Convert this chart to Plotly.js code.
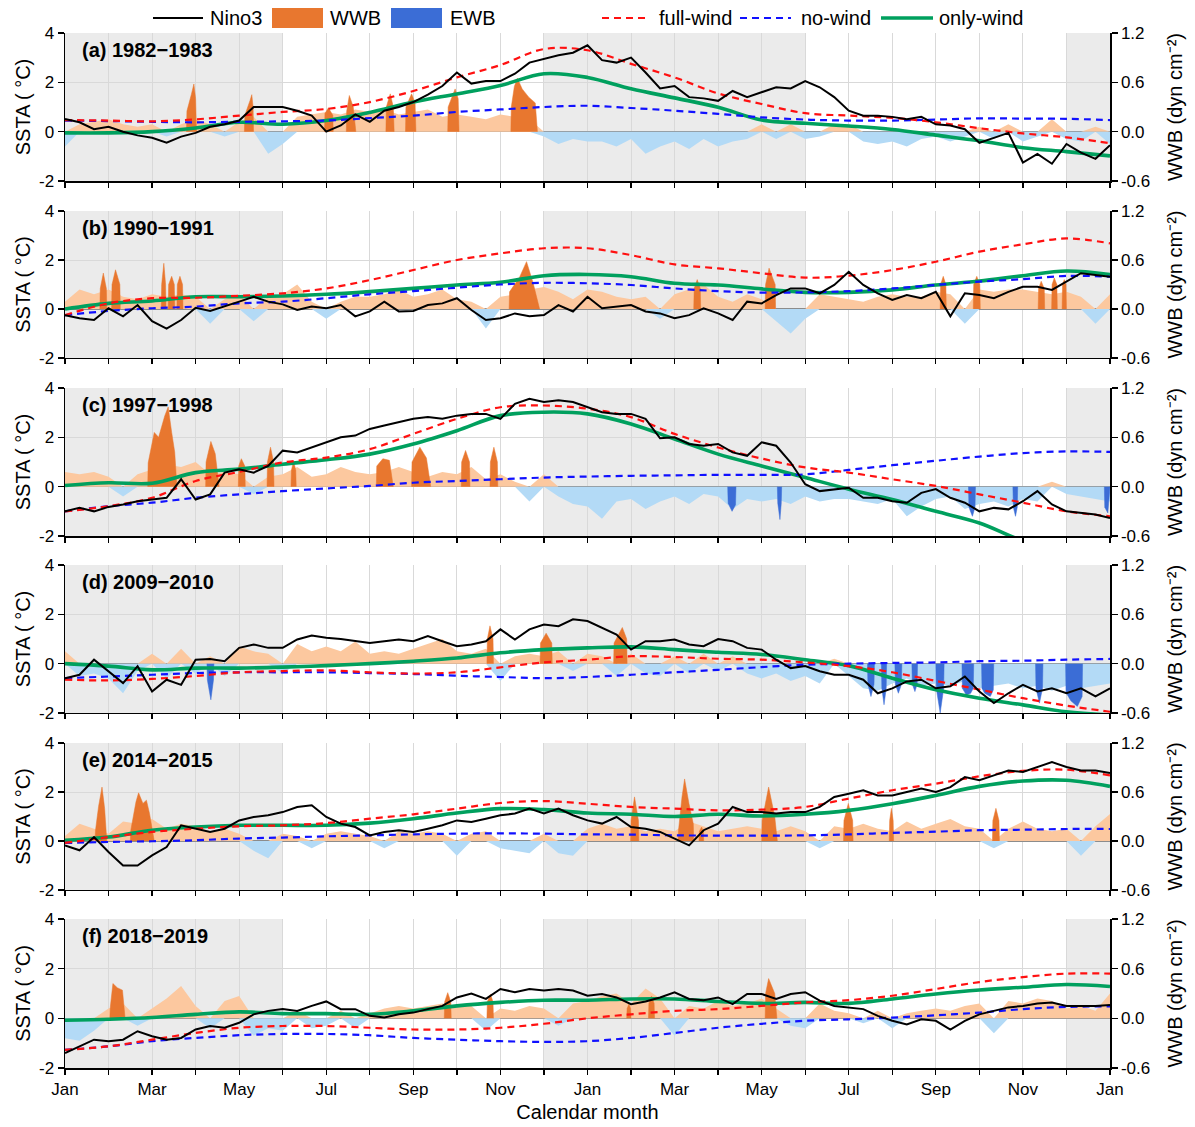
<!DOCTYPE html>
<html><head><meta charset="utf-8">
<script src="https://cdn.plot.ly/plotly-3.0.1.min.js"></script>
<style>html,body{margin:0;padding:0;background:#fff}#chart{width:1195px;height:1127px}</style>
</head><body><div id="chart"></div>
<script>
// ---------- DATA ----------
const panelLabels = ['(a) 1982\u22121983','(b) 1990\u22121991','(c) 1997\u22121998','(d) 2009\u22122010','(e) 2014\u22122015','(f) 2018\u22122019'];
const monthTickVals = [0,2,4,6,8,10,12,14,16,18,20,22,24];
const monthTickText = ['Jan','Mar','May','Jul','Sep','Nov','Jan','Mar','May','Jul','Sep','Nov','Jan'];
const sstaTickVals = [-2,0,2,4];
const sstaTickText = ['-2','0','2','4'];
const wwbTickVals = [-0.6,0,0.6,1.2];
const wwbTickText = ['-0.6','0.0','0.6','1.2'];
const shadeSpans = [[0,5],[11,17],[23,24]]; // Dec-May, in months from Jan of year 1
const legendNames = ['Nino3','WWB','EWB','full-wind','no-wind','only-wind'];
const leftTitle = 'SSTA ( \u00B0C)';
const rightTitle = 'WWB (dyn cm\u207B\u00B2)';
const xTitle = 'Calendar month';

// Nino3 SSTA (°C), every 1/3 month from Jan yr1 to Jan yr3
const nino3_a = [0.51,0.38,0.1,0.2,0.0,-0.15,-0.25,-0.45,-0.2,-0.05,
 0.2,0.3,0.45,1.0,1.0,1.0,0.85,0.65,0.0,0.25,
 0.7,0.4,0.85,1.0,1.2,1.5,1.85,2.4,1.95,2.05,
 2.05,2.35,2.8,2.95,3.1,3.2,3.5,2.9,2.8,3.0,
 2.4,1.75,1.85,1.4,1.35,1.25,1.65,1.4,1.6,1.8,
 1.75,2.05,1.8,1.4,0.85,0.65,0.65,0.6,0.5,0.6,
 0.3,0.25,0.1,-0.45,-0.25,-0.05,-1.25,-0.9,-1.3,-0.5,
 -0.85,-1.1,-0.55];
const nino3_b = [-0.25,-0.38,-0.45,0.03,-0.3,0.16,-0.5,-0.8,-0.45,0.05,
 -0.08,0.1,0.3,0.5,0.3,0.19,-0.04,0.1,0.03,0.16,
 -0.3,-0.1,0.3,-0.1,-0.08,0.16,0.23,0.44,-0.04,-0.45,
 -0.38,-0.18,-0.3,-0.25,0.16,-0.1,0.5,0.03,0.1,0.16,
 -0.1,-0.18,-0.38,-0.25,0.03,-0.18,-0.45,0.3,0.23,0.57,
 0.84,0.84,0.64,0.98,1.52,0.98,0.64,0.37,0.57,0.44,
 0.7,-0.3,0.64,0.57,0.44,0.7,0.91,0.91,0.78,1.12,
 1.46,1.39,1.32];
const nino3_c = [-1.0,-0.86,-1.0,-0.82,-0.72,-0.59,-0.52,-0.45,0.3,-0.52,
 -0.31,0.57,0.71,0.57,0.84,1.46,1.39,1.59,1.8,2.0,
 2.07,2.34,2.48,2.61,2.75,2.82,2.75,2.88,2.95,2.95,
 2.75,3.36,3.56,3.43,3.5,3.43,3.22,3.02,2.95,2.95,
 2.75,1.96,2.0,1.73,1.66,1.73,1.39,1.25,1.8,1.66,
 0.98,0.1,-0.18,-0.1,-0.04,-0.45,-0.45,-0.59,-0.65,-0.25,
 -0.1,-0.45,-0.65,-1.0,-0.86,-0.92,-0.59,-0.18,-0.72,-1.0,
 -1.06,-1.13,-1.27];
const nino3_d = [-0.59,-0.45,0.16,-0.31,-0.79,-0.1,-1.13,-0.65,-0.86,0.16,
 0.19,0.1,0.64,0.78,0.64,0.64,0.98,1.14,1.05,1.0,
 0.91,0.84,0.91,0.98,0.91,1.12,0.91,0.71,0.78,0.91,
 1.39,0.98,1.39,1.59,1.52,1.8,1.73,1.46,1.18,0.57,
 0.91,0.91,0.98,0.78,0.71,1.0,0.91,0.64,0.57,0.16,
 -0.18,-0.1,-0.31,-0.45,-0.45,-0.65,-1.2,-1.0,-0.72,-0.65,
 -1.0,-0.92,-0.52,-1.13,-1.6,-1.2,-0.86,-1.13,-1.0,-1.2,
 -1.0,-1.33,-1.0];
const nino3_e = [-0.18,-0.38,0.16,-0.45,-1.0,-1.0,-0.59,-0.25,0.64,0.5,
 0.37,0.5,0.84,0.98,1.05,1.18,1.39,1.46,0.98,0.71,
 0.57,0.23,0.37,0.44,0.37,0.5,0.64,0.84,0.78,0.91,
 1.05,1.12,1.32,1.12,1.32,1.05,0.84,0.71,0.98,0.57,
 0.5,0.37,0.1,-0.18,0.44,0.71,1.39,1.18,1.18,1.12,
 1.18,1.18,1.39,1.8,1.93,2.07,1.86,1.86,2.0,2.14,
 2.0,2.2,2.61,2.48,2.68,2.88,2.82,3.02,3.22,3.02,
 2.88,2.88,2.78];
const nino3_f = [-1.4,-1.13,-0.86,-0.92,-0.86,-0.52,-0.72,-0.86,-0.79,-0.45,
 -0.31,-0.38,-0.18,0.16,0.3,0.37,0.3,0.5,0.68,0.37,
 0.37,0.1,0.03,0.16,0.23,0.37,0.5,0.84,1.0,0.78,
 1.18,1.05,1.18,1.12,1.18,1.12,0.91,0.98,0.84,0.57,
 0.68,0.84,1.05,0.78,0.73,0.84,0.57,0.98,0.98,0.78,
 0.98,1.05,0.71,0.5,0.44,0.37,0.1,-0.1,-0.25,-0.04,
 -0.1,-0.45,-0.1,0.16,0.3,0.44,0.5,0.6,0.64,0.5,
 0.5,0.5,0.54];

// Model SSTA (°C), monthly, Jan yr1 .. Jan yr3
const fullWind_a = [0.47,0.45,0.42,0.5,0.65,0.8,0.92,1.2,1.65,2.2,2.7,3.35,3.3,2.75,2.2,1.55,1.12,0.75,0.65,0.56,0.38,0.14,-0.07,-0.23,-0.47];
const noWind_a   = [0.45,0.43,0.4,0.38,0.4,0.42,0.45,0.55,0.65,0.8,0.9,1.0,1.05,0.96,0.85,0.72,0.58,0.49,0.45,0.45,0.49,0.54,0.53,0.52,0.47];
const onlyWind_a = [-0.05,-0.05,0.0,0.15,0.38,0.3,0.45,0.78,1.2,1.53,1.87,2.35,2.2,1.74,1.37,0.99,0.47,0.34,0.23,0.09,-0.14,-0.37,-0.65,-0.81,-0.98];
const fullWind_b = [-0.25,0.23,0.44,0.46,0.54,0.64,0.84,1.18,1.59,2.0,2.27,2.48,2.48,2.2,1.82,1.66,1.46,1.28,1.36,1.59,1.93,2.34,2.64,2.88,2.68];
const noWind_b   = [-0.25,-0.08,0.03,0.1,0.23,0.3,0.44,0.6,0.73,0.87,1.0,1.07,1.05,0.98,0.84,0.73,0.67,0.68,0.73,0.84,0.98,1.12,1.22,1.35,1.32];
const onlyWind_b = [0.0,0.23,0.33,0.5,0.5,0.53,0.6,0.71,0.84,0.98,1.09,1.36,1.41,1.32,1.05,0.98,0.82,0.68,0.68,0.78,0.98,1.14,1.36,1.55,1.41];
const fullWind_c = [-1.0,-0.79,-0.45,0.23,0.6,0.98,1.18,1.52,2.14,2.75,3.22,3.29,3.16,2.82,2.14,1.59,1.14,0.78,0.57,0.3,0.03,-0.31,-0.65,-1.0,-1.2];
const noWind_c   = [-1.0,-0.79,-0.65,-0.45,-0.31,-0.18,-0.07,0.03,0.16,0.23,0.3,0.37,0.41,0.44,0.46,0.48,0.48,0.5,0.68,0.87,1.05,1.22,1.36,1.43,1.41];
const onlyWind_c = [0.05,0.16,0.14,0.57,0.71,0.91,1.09,1.32,1.73,2.27,2.88,3.02,2.95,2.54,1.93,1.32,0.84,0.37,-0.1,-0.52,-1.0,-1.47,-2.2,-2.7,-3.2];
const fullWind_d = [-0.65,-0.68,-0.62,-0.5,-0.35,-0.3,-0.27,-0.35,-0.4,-0.35,-0.15,0.05,0.16,0.3,0.27,0.2,0.16,0.05,-0.1,-0.35,-0.7,-1.05,-1.4,-1.7,-1.95];
const noWind_d   = [-0.59,-0.52,-0.45,-0.38,-0.35,-0.35,-0.35,-0.38,-0.42,-0.49,-0.54,-0.59,-0.54,-0.45,-0.35,-0.25,-0.14,-0.04,0.0,0.03,0.05,0.1,0.12,0.16,0.19];
const onlyWind_d = [0.0,-0.1,-0.25,-0.18,-0.18,-0.14,-0.08,0.0,0.1,0.23,0.44,0.57,0.64,0.68,0.57,0.46,0.37,0.16,-0.08,-0.59,-1.06,-1.4,-1.67,-1.95,-2.08];
const fullWind_e = [-0.08,0.16,0.37,0.5,0.6,0.64,0.73,0.91,1.09,1.32,1.55,1.63,1.52,1.39,1.32,1.25,1.28,1.39,1.73,2.07,2.34,2.64,2.86,2.91,2.68];
const noWind_e   = [-0.08,-0.04,-0.01,0.03,0.1,0.14,0.19,0.23,0.27,0.3,0.31,0.3,0.27,0.26,0.23,0.22,0.22,0.23,0.27,0.33,0.38,0.44,0.46,0.49,0.49];
const onlyWind_e = [0.03,0.16,0.44,0.57,0.64,0.64,0.64,0.73,0.91,1.14,1.32,1.28,1.14,1.09,1.0,1.09,1.02,1.09,1.25,1.52,1.86,2.23,2.45,2.48,2.23];
const fullWind_f = [-1.27,-1.13,-0.86,-0.59,-0.38,-0.31,-0.31,-0.38,-0.45,-0.45,-0.38,-0.22,0.0,0.16,0.3,0.37,0.5,0.64,0.73,0.91,1.18,1.46,1.66,1.8,1.8];
const noWind_f   = [-1.27,-1.13,-0.92,-0.79,-0.68,-0.63,-0.63,-0.68,-0.79,-0.86,-0.92,-0.95,-0.92,-0.79,-0.59,-0.38,-0.22,-0.1,-0.04,0.03,0.12,0.23,0.37,0.46,0.48];
const onlyWind_f = [-0.08,-0.04,0.03,0.16,0.26,0.19,0.19,0.16,0.3,0.5,0.64,0.73,0.73,0.78,0.78,0.68,0.6,0.64,0.6,0.78,0.98,1.14,1.25,1.36,1.28];

// Background wind-stress anomaly (dyn cm^-2), every 1/3 month
const wind_a = [-0.18,0.09,0.12,0.15,0.09,0.06,0.09,-0.06,0.09,0.15,0.09,-0.06,0.12,0.18,-0.27,-0.15,0.18,0.21,0.24,0.21,0.27,0.24,0.27,0.21,0.24,0.27,0.18,0.21,0.18,0.15,0.21,0.18,0.15,-0.06,-0.15,-0.09,-0.12,
 -0.12,-0.18,-0.09,-0.27,-0.18,-0.12,-0.21,-0.09,-0.18,-0.12,-0.09,0.09,-0.09,0.09,-0.09,-0.06,0.09,0.09,-0.12,-0.15,-0.12,-0.18,-0.09,-0.06,-0.12,-0.06,0.06,-0.09,0.09,-0.12,-0.06,0.15,-0.09,-0.12,0.06,-0.15];
const wind_b = [0.09,0.24,0.18,0.24,0.15,0.12,0.18,0.15,0.18,0.15,
 -0.18,0.12,0.18,-0.15,0.15,0.18,0.3,0.09,-0.12,0.09,
 0.15,0.15,0.18,0.24,0.15,0.18,0.24,0.12,0.09,-0.24,
 0.15,0.18,0.24,0.27,0.21,0.12,0.24,0.21,0.15,0.12,
 0.15,-0.12,0.18,0.24,0.3,0.15,0.09,0.18,0.12,-0.15,
 -0.3,-0.12,0.18,0.15,0.12,0.09,0.15,0.18,0.15,0.15,
 0.21,0.18,-0.18,0.24,0.21,0.24,0.24,0.21,0.18,0.21,
 0.15,-0.18,0.18];
const wind_c = [0.18,0.15,0.18,0.12,-0.12,0.15,0.21,0.27,0.24,0.3,
 0.15,0.18,0.15,-0.09,0.12,0.15,0.24,0.12,0.15,0.24,
 0.18,0.15,0.18,0.24,0.18,0.12,0.18,0.15,0.24,0.09,
 0.15,0.06,-0.18,0.15,-0.12,-0.21,-0.24,-0.39,-0.18,-0.15,
 -0.27,-0.18,-0.12,-0.21,-0.09,-0.12,-0.27,-0.15,-0.18,-0.15,
 -0.21,-0.12,-0.18,-0.15,-0.15,-0.18,-0.21,-0.15,-0.36,-0.24,
 -0.15,-0.12,-0.27,-0.21,-0.18,-0.24,-0.15,-0.18,0.06,-0.09,
 -0.12,-0.15,-0.18];
const wind_d = [0.15,-0.15,-0.12,-0.18,-0.36,-0.09,0.12,-0.18,0.18,-0.12,
 0.09,-0.15,0.21,0.15,0.12,-0.12,0.24,0.15,0.21,0.15,
 0.27,0.12,0.15,0.12,0.18,0.24,0.3,0.15,0.12,0.18,
 -0.21,0.09,0.12,0.09,0.15,-0.09,0.12,0.09,-0.15,0.12,
 -0.12,-0.15,0.09,-0.12,0.12,-0.09,0.09,-0.12,-0.18,-0.12,
 -0.21,-0.15,-0.24,0.06,-0.15,-0.3,-0.33,-0.24,-0.18,-0.27,
 -0.24,-0.27,-0.21,-0.3,-0.27,-0.24,-0.3,-0.27,-0.33,-0.27,
 -0.3,-0.27,-0.24];
const wind_e = [0.06,0.21,0.15,0.09,0.24,0.21,0.27,0.15,0.21,0.18,
 0.12,0.15,0.09,-0.12,-0.21,0.09,0.06,-0.09,0.09,0.12,
 0.09,0.06,-0.09,0.12,0.09,0.12,0.09,-0.18,0.09,0.12,
 -0.09,-0.12,-0.15,0.09,-0.15,-0.18,0.15,0.21,0.15,0.18,
 0.12,0.15,0.12,0.24,0.18,0.12,0.15,0.18,0.15,0.12,
 0.18,0.12,-0.09,0.18,0.15,0.21,0.15,0.12,0.24,0.15,
 0.21,0.27,0.18,0.15,-0.09,0.15,0.24,0.15,0.12,0.15,
 -0.18,0.18,0.33];
const wind_f = [-0.24,-0.27,-0.15,0.12,0.18,-0.09,0.12,0.24,0.39,0.15,
 -0.12,0.21,0.27,-0.21,-0.12,-0.15,0.09,-0.12,-0.09,0.09,
 -0.12,0.06,0.12,0.15,0.12,0.15,0.18,0.15,0.15,-0.15,
 0.12,0.09,0.15,0.12,-0.09,0.18,0.21,0.27,0.3,0.18,
 0.36,0.24,-0.21,0.15,0.12,0.21,0.15,0.18,0.24,0.12,
 -0.09,-0.12,0.18,0.09,0.06,-0.06,0.09,-0.12,0.06,0.09,
 0.12,0.09,0.15,0.18,-0.18,0.21,0.18,0.24,0.21,0.12,
 0.15,0.09,0.3];

// WWB / EWB events: time (months) and wind stress (dyn cm^-2)
const wwb_a = [
 {t:[2.79,2.8,2.9,2.96,3.0,3.02], v:[0,0.25,0.45,0.58,0.4,0]},
 {t:[4.12,4.13,4.25,4.29,4.32,4.33], v:[0,0.2,0.38,0.45,0.3,0]},
 {t:[5.96,5.97,6.05,6.15,6.16], v:[0,0.22,0.29,0.2,0]},
 {t:[6.46,6.47,6.53,6.62,6.68], v:[0,0.25,0.44,0.3,0]},
 {t:[7.37,7.38,7.47,7.54,7.56], v:[0,0.3,0.46,0.3,0]},
 {t:[7.82,7.83,7.96,8.04,8.06], v:[0,0.3,0.46,0.35,0]},
 {t:[8.79,8.8,8.96,9.03,9.05], v:[0,0.3,0.52,0.4,0]},
 {t:[10.24,10.25,10.32,10.39,10.5,10.65,10.8,10.85], v:[0,0.3,0.55,0.65,0.52,0.42,0.35,0]}];
const ewb_a = [];
const wwb_b = [
 {t:[0.8,0.81,0.88,0.95,0.96], v:[0,0.25,0.44,0.25,0]},
 {t:[1.07,1.08,1.16,1.26,1.27], v:[0,0.3,0.48,0.3,0]},
 {t:[2.21,2.22,2.27,2.31,2.32], v:[0,0.3,0.56,0.3,0]},
 {t:[2.37,2.38,2.45,2.51,2.52], v:[0,0.3,0.4,0.3,0]},
 {t:[2.57,2.58,2.64,2.7,2.71], v:[0,0.3,0.4,0.3,0]},
 {t:[10.2,10.21,10.44,10.6,10.75,10.9], v:[0,0.21,0.39,0.58,0.32,0]},
 {t:[14.44,14.45,14.52,14.59,14.6], v:[0,0.25,0.36,0.25,0]},
 {t:[16.08,16.09,16.17,16.31,16.32], v:[0,0.3,0.5,0.3,0]},
 {t:[20.1,20.11,20.17,20.23,20.24], v:[0,0.3,0.4,0.3,0]},
 {t:[20.86,20.87,20.94,21.01,21.02], v:[0,0.3,0.4,0.3,0]},
 {t:[22.35,22.36,22.42,22.49,22.5], v:[0,0.25,0.34,0.25,0]},
 {t:[22.66,22.67,22.72,22.78,22.79], v:[0,0.3,0.38,0.3,0]},
 {t:[22.9,22.91,22.95,22.99,23.0], v:[0,0.3,0.36,0.3,0]}];
const ewb_b = [];
const wwb_c = [
 {t:[1.9,1.91,2.05,2.15,2.29,2.37,2.45,2.52,2.57], v:[0,0.29,0.66,0.6,0.86,0.97,0.66,0.42,0]},
 {t:[3.23,3.24,3.35,3.45,3.54], v:[0,0.3,0.55,0.4,0]},
 {t:[3.98,3.99,4.05,4.13,4.14], v:[0,0.25,0.34,0.25,0]},
 {t:[4.64,4.65,4.72,4.79,4.8], v:[0,0.3,0.48,0.3,0]},
 {t:[5.19,5.2,5.25,5.3,5.31], v:[0,0.2,0.31,0.2,0]},
 {t:[7.15,7.16,7.3,7.45,7.54], v:[0,0.25,0.34,0.32,0]},
 {t:[7.96,7.97,8.15,8.3,8.4], v:[0,0.3,0.48,0.35,0]},
 {t:[9.1,9.11,9.2,9.29,9.3], v:[0,0.3,0.44,0.3,0]},
 {t:[9.76,9.77,9.85,9.93,9.94], v:[0,0.3,0.48,0.3,0]}];
const ewb_c = [
 {t:[15.22,15.23,15.32,15.4,15.41], v:[0,-0.2,-0.3,-0.22,0]},
 {t:[16.36,16.37,16.42,16.45,16.46], v:[0,-0.2,-0.4,-0.2,0]},
 {t:[20.75,20.76,20.84,20.9,20.91], v:[0,-0.25,-0.36,-0.25,0]},
 {t:[21.77,21.78,21.83,21.87,21.88], v:[0,-0.25,-0.36,-0.25,0]},
 {t:[23.87,23.88,23.95,24.0], v:[0,-0.25,-0.32,0]}];
const wwb_d = [
 {t:[9.69,9.7,9.76,9.83,9.84], v:[0,0.3,0.46,0.3,0]},
 {t:[10.91,10.92,11.05,11.18,11.19], v:[0,0.25,0.37,0.25,0]},
 {t:[12.6,12.61,12.8,12.9,12.91], v:[0,0.25,0.44,0.3,0]}];
const ewb_d = [
 {t:[3.26,3.27,3.35,3.41,3.42], v:[0,-0.2,-0.44,-0.2,0]},
 {t:[18.43,18.44,18.51,18.58,18.59], v:[0,-0.25,-0.4,-0.25,0]},
 {t:[18.75,18.76,18.81,18.86,18.87], v:[0,-0.3,-0.5,-0.3,0]},
 {t:[19.06,19.07,19.14,19.21,19.22], v:[0,-0.25,-0.36,-0.25,0]},
 {t:[19.45,19.46,19.52,19.57,19.58], v:[0,-0.25,-0.34,-0.25,0]},
 {t:[20.0,20.01,20.1,20.18,20.19], v:[0,-0.3,-0.6,-0.3,0]},
 {t:[20.6,20.61,20.7,20.8,20.86,20.87], v:[0,-0.3,-0.38,-0.36,-0.3,0]},
 {t:[21.05,21.06,21.12,21.25,21.32,21.33], v:[0,-0.3,-0.36,-0.4,-0.32,0]},
 {t:[22.29,22.3,22.38,22.45,22.46], v:[0,-0.3,-0.48,-0.3,0]},
 {t:[22.98,22.99,23.1,23.25,23.36,23.37], v:[0,-0.35,-0.45,-0.52,-0.4,0]}];
const wwb_e = [
 {t:[0.69,0.7,0.77,0.85,0.91,0.96], v:[0,0.13,0.42,0.66,0.4,0]},
 {t:[1.5,1.51,1.63,1.69,1.79,1.87,1.94,2.05], v:[0,0.13,0.48,0.59,0.46,0.5,0.34,0]},
 {t:[12.99,13.0,13.08,13.17,13.18], v:[0,0.25,0.54,0.25,0]},
 {t:[14.08,14.09,14.17,14.23,14.33,14.43,14.44], v:[0,0.13,0.54,0.76,0.46,0.21,0]},
 {t:[14.56,14.57,14.62,14.66,14.67], v:[0,0.12,0.17,0.12,0]},
 {t:[16.0,16.01,16.16,16.3,16.36], v:[0,0.25,0.66,0.3,0]},
 {t:[17.88,17.89,17.99,18.09,18.1], v:[0,0.25,0.46,0.25,0]},
 {t:[18.93,18.94,18.98,19.02,19.03], v:[0,0.25,0.4,0.25,0]},
 {t:[21.3,21.31,21.38,21.45,21.46], v:[0,0.25,0.4,0.25,0]}];
const ewb_e = [];
const wwb_f = [
 {t:[1.03,1.04,1.1,1.2,1.32,1.38], v:[0,0.13,0.42,0.37,0.34,0]},
 {t:[8.71,8.72,8.79,8.86,8.87], v:[0,0.2,0.31,0.2,0]},
 {t:[9.69,9.7,9.77,9.83,9.84], v:[0,0.2,0.29,0.2,0]},
 {t:[12.9,12.91,12.95,12.99,13.0], v:[0,0.12,0.17,0.12,0]},
 {t:[13.4,13.41,13.47,13.53,13.54], v:[0,0.18,0.27,0.18,0]},
 {t:[16.08,16.09,16.16,16.3,16.35], v:[0,0.3,0.48,0.3,0]}];
const ewb_f = [];

// ---------- STYLE ----------
const C = {lightOr:'#fcc89f', lightBl:'#b3daf6', darkOr:'#e8772f', darkBl:'#3b6dd6',
  shade:'#ebebeb', grid:'#d9d9d9', red:'#ff1010', blue:'#1010ff', green:'#00a05e'};
const FONT = 'Arial, "Liberation Sans", Helvetica, sans-serif';
const DOMAINS = [[0.857,1.0],[0.686,0.828],[0.514,0.657],[0.343,0.486],[0.172,0.314],[0,0.144]];
const PLOT_H = 1035;

const panels = [
 {nino3:nino3_a, full:fullWind_a, no:noWind_a, only:onlyWind_a, wind:wind_a, wwb:wwb_a, ewb:ewb_a},
 {nino3:nino3_b, full:fullWind_b, no:noWind_b, only:onlyWind_b, wind:wind_b, wwb:wwb_b, ewb:ewb_b},
 {nino3:nino3_c, full:fullWind_c, no:noWind_c, only:onlyWind_c, wind:wind_c, wwb:wwb_c, ewb:ewb_c},
 {nino3:nino3_d, full:fullWind_d, no:noWind_d, only:onlyWind_d, wind:wind_d, wwb:wwb_d, ewb:ewb_d},
 {nino3:nino3_e, full:fullWind_e, no:noWind_e, only:onlyWind_e, wind:wind_e, wwb:wwb_e, ewb:ewb_e},
 {nino3:nino3_f, full:fullWind_f, no:noWind_f, only:onlyWind_f, wind:wind_f, wwb:wwb_f, ewb:ewb_f}];

const T3 = nino3_a.map((_,k)=>k/3);
const T1 = fullWind_a.map((_,k)=>k);

const traces = [];
const layout = {
  width:1195, height:1127, margin:{l:65,r:85,t:33,b:59},
  paper_bgcolor:'white', plot_bgcolor:'white', showlegend:false,
  font:{family:FONT, size:17, color:'black'},
  shapes:[], annotations:[]
};

panels.forEach((p,i)=>{
  const xid = i===0 ? 'x' : 'x'+(i+1);
  const bNum = 2*i+1, oNum = 2*i+2;
  const yB = bNum===1 ? 'y' : 'y'+bNum;
  const yO = 'y'+oNum;
  const dom = DOMAINS[i];
  const xa = {
    domain:[0,1], anchor:yB, range:[0,24], tickmode:'array', tickvals:monthTickVals, ticktext:monthTickText,
    showticklabels: i===5, ticks:'outside', ticklen:5, tickwidth:1.3, tickcolor:'black',
    showline:true, linecolor:'black', linewidth:1.5, showgrid:true, gridcolor:C.grid, gridwidth:1,
    zeroline:false, tickfont:{size:17},
    minor:{tickmode:'linear', tick0:0, dtick:1, ticks:'outside', ticklen:5, tickwidth:1.3, tickcolor:'black',
      showgrid:true, gridcolor:C.grid, gridwidth:1}
  };
  if(i===5) xa.title = {text:xTitle, font:{size:20}, standoff:7};
  layout[i===0?'xaxis':'xaxis'+(i+1)] = xa;
  layout[bNum===1?'yaxis':'yaxis'+bNum] = {
    domain:dom, anchor:xid, side:'right', range:[-0.6,1.2], tickmode:'array', tickvals:wwbTickVals, ticktext:wwbTickText,
    ticks:'outside', ticklen:6, tickwidth:1.3, tickcolor:'black', showline:true, linecolor:'black', linewidth:1.5,
    showgrid:true, gridcolor:C.grid, zeroline:true, zerolinecolor:'#8c8c8c', zerolinewidth:1.5, tickfont:{size:17},
    title:{text:rightTitle, font:{size:20}, standoff:19}
  };
  layout['yaxis'+oNum] = {
    overlaying:yB, anchor:xid, side:'left', range:[-2,4], tickmode:'array', tickvals:sstaTickVals, ticktext:sstaTickText,
    ticks:'outside', ticklen:6, tickwidth:1.3, tickcolor:'black', showline:true, linecolor:'black', linewidth:1.5,
    showgrid:false, zeroline:false, tickfont:{size:17},
    title:{text:leftTitle, font:{size:20}, standoff:3}
  };
  shadeSpans.forEach(s=>{
    layout.shapes.push({type:'rect', xref:xid, yref:yB+' domain', x0:s[0], x1:s[1], y0:0, y1:1,
      fillcolor:C.shade, line:{width:0}, layer:'below'});
  });
  // background wind stress
  traces.push({x:T3, y:p.wind.map(v=>v>0?v:0), xaxis:xid, yaxis:yB, mode:'lines', fill:'tozeroy',
    fillcolor:C.lightOr, line:{width:0, color:C.lightOr}, hoverinfo:'skip'});
  traces.push({x:T3, y:p.wind.map(v=>v<0?v:0), xaxis:xid, yaxis:yB, mode:'lines', fill:'tozeroy',
    fillcolor:C.lightBl, line:{width:0, color:C.lightBl}, hoverinfo:'skip'});
  p.wwb.forEach(e=>traces.push({x:e.t, y:e.v, xaxis:xid, yaxis:yB, mode:'lines', fill:'toself',
    fillcolor:C.darkOr, line:{width:0.5, color:C.darkOr}, hoverinfo:'skip'}));
  p.ewb.forEach(e=>traces.push({x:e.t, y:e.v, xaxis:xid, yaxis:yB, mode:'lines', fill:'toself',
    fillcolor:C.darkBl, line:{width:0.5, color:C.darkBl}, hoverinfo:'skip'}));
  // SSTA lines
  traces.push({x:T1, y:p.only, xaxis:xid, yaxis:yO, mode:'lines', line:{color:C.green, width:3.6, shape:'spline', smoothing:1}});
  traces.push({x:T1, y:p.no, xaxis:xid, yaxis:yO, mode:'lines', line:{color:C.blue, width:2.2, dash:'7px,5px', shape:'spline', smoothing:1}});
  traces.push({x:T1, y:p.full, xaxis:xid, yaxis:yO, mode:'lines', line:{color:C.red, width:2.2, dash:'7px,5px', shape:'spline', smoothing:1}});
  traces.push({x:T3, y:p.nino3, xaxis:xid, yaxis:yO, mode:'lines', line:{color:'black', width:2}});

  // panel label
  layout.annotations.push({xref:'paper', yref:'paper', x:0.0144, y:dom[1]-17/PLOT_H, xanchor:'left', yanchor:'middle',
    text:'<b>'+panelLabels[i]+'</b>', showarrow:false, font:{size:20, family:FONT, color:'black'}});
});

// ---------- manual legend ----------
const px2x = px => (px-65)/1045;
const py2y = py => (1068-py)/PLOT_H;
const legY = py2y(18);
const legItems = [
  {kind:'line', x0:153, x1:203, tx:208, color:'black', width:2, dash:'solid'},
  {kind:'rect', x0:272, x1:323, tx:328, color:C.darkOr},
  {kind:'rect', x0:391, x1:442, tx:448, color:C.darkBl},
  {kind:'line', x0:602, x1:650, tx:657, color:C.red, width:2.2, dash:'7px,5px'},
  {kind:'line', x0:740, x1:791, tx:799, color:C.blue, width:2.2, dash:'7px,5px'},
  {kind:'line', x0:881, x1:933, tx:937, color:C.green, width:3.6, dash:'solid'}];
legItems.forEach((it,k)=>{
  if(it.kind==='line'){
    layout.shapes.push({type:'line', xref:'paper', yref:'paper', x0:px2x(it.x0), x1:px2x(it.x1), y0:legY, y1:legY,
      line:{color:it.color, width:it.width, dash:it.dash}});
  } else {
    layout.shapes.push({type:'rect', xref:'paper', yref:'paper', x0:px2x(it.x0), x1:px2x(it.x1), y0:py2y(28), y1:py2y(8),
      fillcolor:it.color, line:{width:0}});
  }
  layout.annotations.push({xref:'paper', yref:'paper', x:px2x(it.tx), y:legY, xanchor:'left', yanchor:'middle',
    text:legendNames[k], showarrow:false, font:{size:20, family:FONT, color:'black'}});
});

Plotly.newPlot('chart', traces, layout, {staticPlot:true});
</script>
</body></html>
